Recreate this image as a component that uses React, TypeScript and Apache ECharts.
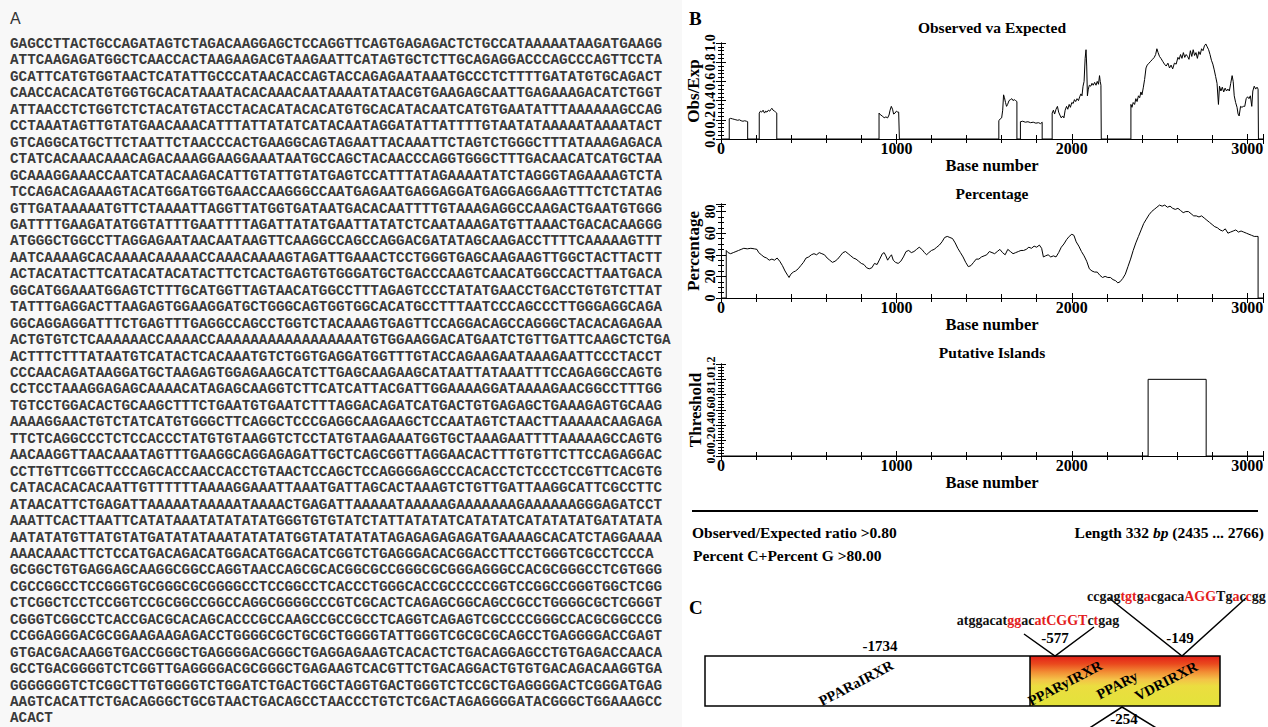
import React, { useEffect, useRef } from 'react';
import * as echarts from 'echarts';

const sequenceLines = [
  'GAGCCTTACTGCCAGATAGTCTAGACAAGGAGCTCCAGGTTCAGTGAGAGACTCTGCCATAAAAATAAGATGAAGG',
  'ATTCAAGAGATGGCTCAACCACTAAGAAGACGTAAGAATTCATAGTGCTCTTGCAGAGGACCCAGCCCAGTTCCTA',
  'GCATTCATGTGGTAACTCATATTGCCCATAACACCAGTACCAGAGAATAAATGCCCTCTTTTGATATGTGCAGACT',
  'CAACCACACATGTGGTGCACATAAATACACAAACAATAAAATATAACGTGAAGAGCAATTGAGAAAGACATCTGGT',
  'ATTAACCTCTGGTCTCTACATGTACCTACACATACACATGTGCACATACAATCATGTGAATATTTAAAAAAGCCAG',
  'CCTAAATAGTTGTATGAACAAACATTTATTATATCATACAATAGGATATTATTTTGTAATATAAAAATAAAATACT',
  'GTCAGGCATGCTTCTAATTCTAACCCACTGAAGGCAGTAGAATTACAAATTCTAGTCTGGGCTTTATAAAGAGACA',
  'CTATCACAAACAAACAGACAAAGGAAGGAAATAATGCCAGCTACAACCCAGGTGGGCTTTGACAACATCATGCTAA',
  'GCAAAGGAAACCAATCATACAAGACATTGTATTGTATGAGTCCATTTATAGAAAATATCTAGGGTAGAAAAGTCTA',
  'TCCAGACAGAAAGTACATGGATGGTGAACCAAGGGCCAATGAGAATGAGGAGGATGAGGAGGAAGTTTCTCTATAG',
  'GTTGATAAAAATGTTCTAAAATTAGGTTATGGTGATAATGACACAATTTTGTAAAGAGGCCAAGACTGAATGTGGG',
  'GATTTTGAAGATATGGTATTTGAATTTTAGATTATATGAATTATATCTCAATAAAGATGTTAAACTGACACAAGGG',
  'ATGGGCTGGCCTTAGGAGAATAACAATAAGTTCAAGGCCAGCCAGGACGATATAGCAAGACCTTTTCAAAAAGTTT',
  'AATCAAAAGCACAAAACAAAAACCAAACAAAAGTAGATTGAAACTCCTGGGTGAGCAAGAAGTTGGCTACTTACTT',
  'ACTACATACTTCATACATACATACTTCTCACTGAGTGTGGGATGCTGACCCAAGTCAACATGGCCACTTAATGACA',
  'GGCATGGAAATGGAGTCTTTGCATGGTTAGTAACATGGCCTTTAGAGTCCCTATATGAACCTGACCTGTGTCTTAT',
  'TATTTGAGGACTTAAGAGTGGAAGGATGCTGGGCAGTGGTGGCACATGCCTTTAATCCCAGCCCTTGGGAGGCAGA',
  'GGCAGGAGGATTTCTGAGTTTGAGGCCAGCCTGGTCTACAAAGTGAGTTCCAGGACAGCCAGGGCTACACAGAGAA',
  'ACTGTGTCTCAAAAAACCAAAACCAAAAAAAAAAAAAAAAATGTGGAAGGACATGAATCTGTTGATTCAAGCTCTGA',
  'ACTTTCTTTATAATGTCATACTCACAAATGTCTGGTGAGGATGGTTTGTACCAGAAGAATAAAGAATTCCCTACCT',
  'CCCAACAGATAAGGATGCTAAGAGTGGAGAAGCATCTTGAGCAAGAAGCATAATTATAAATTTCCAGAGGCCAGTG',
  'CCTCCTAAAGGAGAGCAAAACATAGAGCAAGGTCTTCATCATTACGATTGGAAAAGGATAAAAGAACGGCCTTTGG',
  'TGTCCTGGACACTGCAAGCTTTCTGAATGTGAATCTTTAGGACAGATCATGACTGTGAGAGCTGAAAGAGTGCAAG',
  'AAAAGGAACTGTCTATCATGTGGGCTTCAGGCTCCCGAGGCAAGAAGCTCCAATAGTCTAACTTAAAAACAAGAGA',
  'TTCTCAGGCCCTCTCCACCCTATGTGTAAGGTCTCCTATGTAAGAAATGGTGCTAAAGAATTTTAAAAAGCCAGTG',
  'AACAAGGTTAACAAATAGTTTGAAGGCAGGAGAGATTGCTCAGCGGTTAGGAACACTTTGTGTTCTTCCAGAGGAC',
  'CCTTGTTCGGTTCCCAGCACCAACCACCTGTAACTCCAGCTCCAGGGGAGCCCACACCTCTCCCTCCGTTCACGTG',
  'CATACACACACAATTGTTTTTTAAAAGGAAATTAAATGATTAGCACTAAAGTCTGTTGATTAAGGCATTCGCCTTC',
  'ATAACATTCTGAGATTAAAAATAAAAATAAAACTGAGATTAAAAATAAAAAGAAAAAAAGAAAAAAGGGAGATCCT',
  'AAATTCACTTAATTCATATAAATATATATATGGGTGTGTATCTATTATATATCATATATCATATATATGATATATA',
  'AATATATGTTATGTATGATATATAAATATATATGGTATATATATAGAGAGAGAGATGAAAAGCACATCTAGGAAAA',
  'AAACAAACTTCTCCATGACAGACATGGACATGGACATCGGTCTGAGGGACACGGACCTTCCTGGGTCGCCTCCCA',
  'GCGGCTGTGAGGAGCAAGGCGGCCAGGTAACCAGCGCACGGCGCCGGGCGCGGGAGGGCCACGCGGGCCTCGTGGG',
  'CGCCGGCCTCCGGGTGCGGGCGCGGGGCCTCCGGCCTCACCCTGGGCACCGCCCCCGGTCCGGCCGGGTGGCTCGG',
  'CTCGGCTCCTCCGGTCCGCGGCCGGCCAGGCGGGGCCCGTCGCACTCAGAGCGGCAGCCGCCTGGGGCGCTCGGGT',
  'CGGGTCGGCCTCACCGACGCACAGCACCCGCCAAGCCGCCGCCTCAGGTCAGAGTCGCCCCGGGCCACGCGGCCCG',
  'CCGGAGGGACGCGGAAGAAGAGACCTGGGGCGCTGCGCTGGGGTATTGGGTCGCGCGCAGCCTGAGGGGACCGAGT',
  'GTGACGACAAGGTGACCGGGCTGAGGGGACGGGCTGAGGAGAAGTCACACTCTGACAGGAGCCTGTGAGACCAACA',
  'GCCTGACGGGGTCTCGGTTGAGGGGACGCGGGCTGAGAAGTCACGTTCTGACAGGACTGTGTGACAGACAAGGTGA',
  'GGGGGGGTCTCGGCTTGTGGGGTCTGGATCTGACTGGCTAGGTGACTGGGTCTCCGCTGAGGGGACTCGGGATGAG',
  'AAGTCACATTCTGACAGGGCTGCGTAACTGACAGCCTAACCCTGTCTCGACTAGAGGGGATACGGGCTGGAAAGCC',
  'ACACT',
];

// Observed / Expected CpG ratio  [base, ratio]
const obsExpPoints: [number, number][] = [
  [0, 0], [47, 0], [47, 0.21], [55, 0.215], [65, 0.21], [75, 0.205], [85, 0.2], [95, 0.195], [105, 0.2],
  [115, 0.19], [125, 0.185], [135, 0.19], [145, 0.185], [152, 0.18], [152, 0],
  [218, 0], [218, 0.27], [225, 0.29], [232, 0.28], [240, 0.3], [248, 0.27], [255, 0.29], [262, 0.28],
  [270, 0.3], [278, 0.29], [285, 0.31], [290, 0.32], [297, 0.3], [305, 0.29], [312, 0.28], [318, 0.27], [318, 0],
  [901, 0], [901, 0.27], [910, 0.25], [920, 0.24], [930, 0.22], [940, 0.23], [950, 0.22], [958, 0.25],
  [964, 0.3], [971, 0.34], [978, 0.31], [984, 0.26], [992, 0.27], [1000, 0.29], [1008, 0.28], [1013, 0.28], [1017, 0],
  [1584, 0], [1584, 0.19], [1592, 0.21], [1600, 0.22], [1606, 0.3], [1611, 0.46], [1616, 0.43], [1622, 0.38],
  [1628, 0.34], [1634, 0.36], [1642, 0.4], [1650, 0.41], [1658, 0.42], [1665, 0.4], [1672, 0.41], [1680, 0.4],
  [1687, 0.39], [1687, 0],
  [1707, 0], [1707, 0.18], [1720, 0.185], [1735, 0.175], [1750, 0.18], [1765, 0.17], [1780, 0.175],
  [1795, 0.165], [1810, 0.17], [1822, 0.16], [1831, 0.175], [1831, 0],
  [1888, 0], [1888, 0.27], [1895, 0.3], [1902, 0.26], [1910, 0.31], [1918, 0.34], [1925, 0.28], [1932, 0.25],
  [1940, 0.22], [1948, 0.24], [1955, 0.22], [1962, 0.3], [1970, 0.34], [1977, 0.31], [1985, 0.36], [1992, 0.33],
  [2000, 0.38], [2008, 0.37], [2015, 0.41], [2022, 0.39], [2030, 0.42], [2038, 0.4], [2045, 0.44], [2052, 0.47],
  [2058, 0.45], [2064, 0.55], [2070, 0.6], [2076, 0.84], [2081, 0.93], [2085, 0.76], [2089, 0.45], [2094, 0.52],
  [2100, 0.56], [2108, 0.55], [2115, 0.58], [2122, 0.56], [2130, 0.59], [2138, 0.56], [2145, 0.6], [2152, 0.57],
  [2158, 0.66], [2162, 0.6], [2166, 0.56], [2168, 0],
  [2337, 0], [2337, 0.36], [2343, 0.33], [2350, 0.38], [2358, 0.36], [2365, 0.42], [2372, 0.39], [2380, 0.45],
  [2387, 0.43], [2394, 0.49], [2400, 0.46], [2408, 0.54], [2415, 0.62], [2423, 0.74], [2430, 0.77], [2440, 0.79],
  [2450, 0.81], [2460, 0.83], [2470, 0.85], [2478, 0.88], [2485, 0.94], [2492, 0.9], [2500, 0.86], [2508, 0.84],
  [2518, 0.81], [2528, 0.78], [2538, 0.76], [2548, 0.79], [2557, 0.74], [2566, 0.77], [2575, 0.73], [2585, 0.79],
  [2595, 0.78], [2605, 0.85], [2612, 0.83], [2620, 0.88], [2628, 0.84], [2636, 0.9], [2644, 0.85], [2652, 0.88],
  [2660, 0.86], [2668, 0.83], [2676, 0.92], [2684, 0.86], [2692, 0.93], [2700, 0.87], [2708, 0.9], [2716, 0.84],
  [2724, 0.91], [2732, 0.88], [2740, 0.94], [2748, 0.92], [2756, 0.97], [2764, 0.99], [2772, 0.96], [2780, 0.93],
  [2788, 0.88], [2796, 0.82], [2804, 0.78], [2812, 0.72], [2820, 0.65], [2828, 0.58], [2836, 0.36], [2842, 0.55],
  [2850, 0.5], [2858, 0.54], [2866, 0.49], [2874, 0.53], [2882, 0.5], [2890, 0.52], [2898, 0.5], [2906, 0.58],
  [2914, 0.66], [2920, 0.6], [2926, 0.45], [2934, 0.38], [2942, 0.33], [2948, 0.26], [2954, 0.24], [2962, 0.34],
  [2970, 0.33], [2978, 0.34], [2986, 0.34], [2994, 0.42], [3002, 0.44], [3010, 0.42], [3018, 0.45], [3026, 0.34],
  [3032, 0.5], [3040, 0.55], [3048, 0.52], [3056, 0.54], [3062, 0.52], [3064, 0], [3090, 0],
];

// Percentage C+G  [base, percent]
const gcPoints: [number, number][] = [
  [0, 0], [30, 0], [30, 44], [40, 42], [55, 41], [70, 42], [85, 43], [100, 44], [115, 45], [130, 46], [150, 45.5],
  [170, 46], [190, 45.5], [205, 45], [215, 42], [230, 40], [245, 38], [260, 37], [275, 35], [290, 36], [305, 35],
  [320, 37], [335, 34], [350, 30], [365, 25], [380, 21], [388, 19], [398, 22], [412, 24], [425, 25], [440, 27],
  [455, 30], [470, 33], [485, 37], [500, 38], [515, 40], [530, 41], [545, 40], [560, 42], [575, 41], [590, 40],
  [605, 37], [620, 35], [635, 33], [650, 34], [665, 36], [680, 39], [695, 42], [710, 43], [725, 41], [740, 39],
  [755, 37], [770, 36], [785, 34], [800, 32], [815, 31], [830, 28], [845, 27], [860, 28], [875, 32], [890, 31],
  [905, 36], [920, 41], [930, 42], [940, 39], [950, 35], [962, 38], [972, 40], [982, 35], [995, 33], [1010, 32],
  [1025, 34], [1040, 38], [1055, 43], [1070, 44], [1085, 42], [1100, 43], [1115, 45], [1130, 47], [1145, 45],
  [1160, 42], [1172, 40], [1185, 42], [1200, 44], [1215, 45], [1230, 47], [1245, 49], [1260, 52], [1275, 56],
  [1290, 57], [1305, 56], [1320, 55], [1335, 51], [1350, 46], [1365, 42], [1380, 38], [1395, 33], [1410, 29],
  [1425, 30], [1440, 33], [1455, 36], [1470, 36], [1485, 38], [1500, 39], [1515, 40], [1530, 43], [1545, 42],
  [1560, 41], [1575, 43], [1590, 45], [1605, 42], [1620, 40], [1635, 45], [1650, 43], [1665, 41], [1680, 42],
  [1695, 43], [1710, 44], [1725, 44], [1740, 45], [1755, 47], [1770, 46], [1785, 48], [1800, 47], [1815, 49],
  [1828, 46], [1838, 38], [1850, 39], [1865, 40], [1880, 38], [1895, 39], [1910, 38], [1925, 42], [1940, 47],
  [1955, 50], [1970, 54], [1985, 57], [2000, 59], [2012, 58], [2025, 52], [2040, 48], [2055, 43], [2070, 39],
  [2085, 34], [2100, 27], [2115, 25], [2130, 24], [2145, 24], [2160, 21], [2175, 19], [2190, 20], [2205, 19],
  [2220, 19], [2235, 17], [2250, 16], [2262, 14], [2275, 15], [2290, 18], [2305, 22], [2320, 29], [2335, 36],
  [2350, 44], [2365, 51], [2380, 57], [2395, 63], [2410, 69], [2425, 73], [2440, 77], [2455, 80], [2470, 82],
  [2485, 84], [2500, 86], [2515, 85], [2530, 86], [2545, 84], [2560, 85], [2575, 83], [2590, 82], [2605, 83],
  [2620, 81], [2635, 79], [2650, 80], [2665, 80], [2680, 78], [2695, 76], [2710, 76], [2725, 75], [2740, 76],
  [2755, 74], [2770, 72], [2785, 70], [2800, 68], [2815, 66], [2830, 65], [2845, 63], [2860, 62], [2875, 64],
  [2890, 60], [2905, 61], [2920, 62], [2935, 63], [2950, 61], [2965, 62], [2980, 61], [2995, 60], [3010, 59],
  [3025, 58], [3040, 57], [3055, 57], [3062, 57], [3062, 0], [3090, 0],
];

// Putative island threshold [base, flag]
const islandPoints: [number, number][] = [
  [0, 0], [2435, 0], [2435, 1], [2766, 1], [2766, 0], [3090, 0],
];

const chartTitles = ['Observed va Expected', 'Percentage', 'Putative Islands'];
const yAxisNames = ['Obs/Exp', 'Percentage', 'Threshold'];
const yMaxes = [1, 87, 1.2];
const yIntervals = [0.2, 20, 0.2];
const X_MAX = 3090;

const SERIF = '"Liberation Serif", "Times New Roman", serif';

const App: React.FC = () => {
  const ref = useRef<HTMLDivElement>(null);

  useEffect(() => {
    document.body.style.margin = '0';
    if (!ref.current) return;
    const chart = echarts.init(ref.current, undefined, { renderer: 'svg' });

    const gridTops = [43, 204, 364];
    const gridHeights = [96, 94, 92];
    const titleYs = [27, 193, 352];
    const labelSizes = [14, 14, 12];
    const decimals = [1, 0, 1];
    const datasets = [obsExpPoints, gcPoints, islandPoints];
    const left = 721;
    const width = 542;

    const grids: any[] = [];
    const xAxes: any[] = [];
    const yAxes: any[] = [];
    const series: any[] = [];
    const axisLine = { show: true, lineStyle: { color: '#000', width: 1 } };

    for (let i = 0; i < 3; i++) {
      grids.push({ left, top: gridTops[i], width, height: gridHeights[i], containLabel: false });
      const xBase = {
        type: 'value', gridIndex: i, min: 0, max: X_MAX, interval: 1000,
        axisLine, splitLine: { show: false },
        axisTick: { show: true, inside: true, length: 5, lineStyle: { color: '#000' } },
        minorTick: { show: true, splitNumber: 5, length: 4, lineStyle: { color: '#000' } },
      };
      xAxes.push({
        ...xBase, position: 'bottom',
        name: 'Base number', nameLocation: 'middle', nameGap: 4,
        nameTextStyle: { fontFamily: SERIF, fontWeight: 'bold', fontSize: 16.5, color: '#000' },
        axisLabel: {
          show: true, margin: 1, fontFamily: SERIF, fontWeight: 'bold', fontSize: 16, color: '#000',
          showMaxLabel: false,
          formatter: (v: number) => (v % 1000 === 0 ? String(v) : ''),
        },
      });
      xAxes.push({ ...xBase, position: 'top', axisLabel: { show: false } });

      const yBase = {
        type: 'value', gridIndex: i, min: 0, max: yMaxes[i], interval: yIntervals[i],
        axisLine, splitLine: { show: false },
        axisTick: { show: true, inside: true, length: 5, lineStyle: { color: '#000' } },
        minorTick: { show: true, splitNumber: i === 1 ? 4 : 5, length: 3, lineStyle: { color: '#000' } },
      };
      const dec = decimals[i];
      const step = yIntervals[i];
      yAxes.push({
        ...yBase, position: 'left',
        name: yAxisNames[i], nameLocation: 'middle', nameGap: 17, nameRotate: 90,
        nameTextStyle: { fontFamily: SERIF, fontWeight: 'bold', fontSize: 17, color: '#000' },
        axisLabel: {
          show: true, rotate: 90, margin: 4, fontFamily: SERIF, fontWeight: 'bold',
          fontSize: labelSizes[i], color: '#000',
          showMinLabel: true, showMaxLabel: true, hideOverlap: false,
          formatter: (v: number) => {
            const k = v / step;
            if (Math.abs(k - Math.round(k)) > 1e-6) return '';
            return v.toFixed(dec);
          },
        },
      });
      yAxes.push({ ...yBase, position: 'right', axisLabel: { show: false } });

      series.push({
        type: 'line', xAxisIndex: 2 * i, yAxisIndex: 2 * i,
        data: datasets[i], showSymbol: false, symbol: 'none',
        lineStyle: { color: '#000', width: 1 }, silent: true,
      });
    }

    const txt = (text: string, x: number, y: number, size: number, extra: any = {}) => ({
      type: 'text',
      style: {
        text, x, y, fontFamily: SERIF, fontWeight: 'bold', fontSize: size, fill: '#000',
        verticalAlign: 'middle', align: 'left', ...extra,
      },
    });

    const red = '#e3201c';
    const seqRich = {
      k: { fill: '#111' },
      r: { fill: red },
    };

    const graphic: any[] = [
      { type: 'rect', shape: { x: 0, y: 0, width: 682, height: 727 }, style: { fill: '#f8f8f8' }, z: -10, silent: true },
      {
        type: 'text',
        style: { text: 'A', x: 10, y: 18, fontFamily: '"Liberation Sans", Arial, sans-serif', fontSize: 16, fill: '#333', verticalAlign: 'middle' },
      },
      ...sequenceLines.map((t, i) => ({
        type: 'text',
        style: {
          text: t, x: 10, y: 44 + i * 16.45, fontFamily: '"Liberation Mono", "Courier New", monospace',
          fontWeight: 'bold', fontSize: 14.3, fill: '#3a3a3a', verticalAlign: 'middle',
        },
      })),
      txt('B', 689, 18, 19),
      ...chartTitles.map((t, i) => txt(t, left + width / 2, titleYs[i], 15.5, { align: 'center' })),
      { type: 'line', shape: { x1: 692, y1: 511, x2: 1258, y2: 511 }, style: { stroke: '#000', lineWidth: 2 } },
      txt('Observed/Expected ratio >0.80', 692, 532, 15.5),
      {
        type: 'text',
        style: {
          text: '{n|Length 332 }{i|bp}{n| (2435 ... 2766)}', x: 1264, y: 532, align: 'right', verticalAlign: 'middle',
          fontFamily: SERIF, fontWeight: 'bold', fontSize: 15.5, fill: '#000',
          rich: {
            n: { fill: '#000' },
            i: { fill: '#000', fontStyle: 'italic', fontWeight: 'bold', fontSize: 15.5, fontFamily: SERIF },
          },
        },
      },
      txt('Percent C+Percent G >80.00', 693, 555, 15.5),
      txt('C', 689, 607, 19),
      // promoter box
      { type: 'rect', shape: { x: 705, y: 656, width: 515, height: 50 }, style: { fill: '#fff' } },
      {
        type: 'rect', shape: { x: 1030, y: 656, width: 190, height: 50 },
        style: {
          fill: new echarts.graphic.LinearGradient(0, 0, 0, 1, [
            { offset: 0, color: '#e21f17' },
            { offset: 0.16, color: '#ea4a1e' },
            { offset: 0.32, color: '#f28d34' },
            { offset: 0.47, color: '#f4c248' },
            { offset: 0.6, color: '#ebdd40' },
            { offset: 1, color: '#e3e33a' },
          ]),
        },
      },
      { type: 'rect', shape: { x: 705, y: 656, width: 515, height: 50 }, style: { fill: 'none', stroke: '#000', lineWidth: 1.5 } },
      { type: 'line', shape: { x1: 1030, y1: 656, x2: 1030, y2: 706 }, style: { stroke: '#000', lineWidth: 1.5 } },
      txt('-1734', 880, 646, 15, { align: 'center' }),
      txt('-577', 1055, 638, 15, { align: 'center' }),
      txt('-149', 1180, 638, 15, { align: 'center' }),
      txt('-254', 1124, 719, 15, { align: 'center' }),
      { type: 'polyline', shape: { points: [[1024, 634], [1055, 656], [1094, 627]] }, style: { stroke: '#000', lineWidth: 1.5, fill: 'none' } },
      { type: 'polyline', shape: { points: [[1109, 598], [1182, 656], [1246, 598]] }, style: { stroke: '#000', lineWidth: 1.5, fill: 'none' } },
      { type: 'polyline', shape: { points: [[1071, 740], [1122, 707], [1176, 740]] }, style: { stroke: '#000', lineWidth: 1.5, fill: 'none' } },
      {
        type: 'text',
        style: {
          text: '{k|atggacat}{r|gg}{k|ac}{r|at}{r|CGGT}{k|c}{r|t}{k|gag}', x: 1038, y: 620, align: 'center', verticalAlign: 'middle',
          fontFamily: SERIF, fontWeight: 'bold', fontSize: 14, fill: '#111', rich: seqRich,
        },
      },
      {
        type: 'text',
        style: {
          text: '{k|ccgag}{r|tgt}{k|g}{r|a}{k|cgaca}{r|AGG}{k|Tg}{r|a}{k|c}{r|c}{k|gg}', x: 1087, y: 596, align: 'left', verticalAlign: 'middle',
          fontFamily: SERIF, fontWeight: 'bold', fontSize: 14, fill: '#111', rich: seqRich,
        },
      },
      ...[
        ['PPARaIRXR', 856, 683],
        ['PPARyIRXR', 1065, 683],
        ['PPARy', 1117, 685],
        ['VDRIRXR', 1166, 681],
      ].map(([t, x, y]) => ({
        type: 'text', x, y, rotation: 0.48,
        style: {
          text: t, x: 0, y: 0, align: 'center', verticalAlign: 'middle',
          fontFamily: SERIF, fontWeight: 'bold', fontSize: 14.5, fill: '#000',
        },
      })),
    ];

    chart.setOption({
      animation: false,
      backgroundColor: '#fff',
      textStyle: { fontFamily: SERIF },
      grid: grids,
      xAxis: xAxes,
      yAxis: yAxes,
      series,
      graphic,
    });

    return () => chart.dispose();
  }, []);

  return <div ref={ref} style={{ width: 1268, height: 727 }} />;
};

export default App;
